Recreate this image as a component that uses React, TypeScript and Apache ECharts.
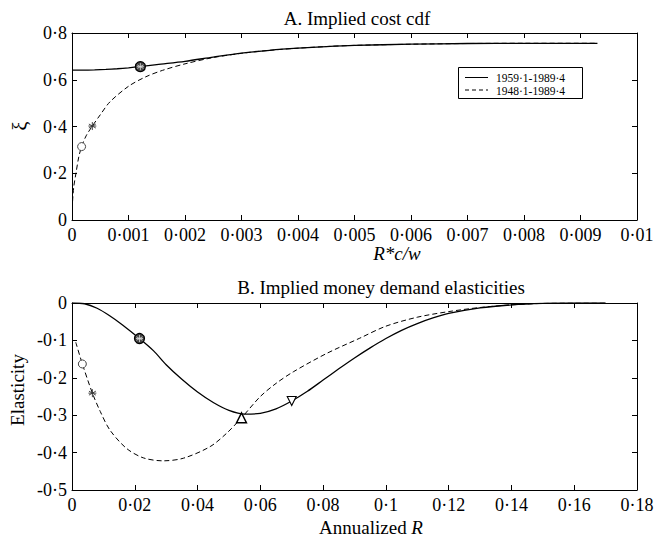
import React, { useEffect, useRef } from "react";
import * as echarts from "echarts";

// Panel A: implied cost cdf (x = R*c/w, y = xi)
const topSolid: [number, number][] = [
  [0, 0.641], [0.0002, 0.641], [0.0004, 0.642], [0.0006, 0.644], [0.0008, 0.647],
  [0.001, 0.651], [0.0012, 0.656], [0.0015, 0.665], [0.002, 0.679], [0.0025, 0.697],
  [0.003, 0.714], [0.0035, 0.726], [0.004, 0.735], [0.0045, 0.742], [0.005, 0.747],
  [0.006, 0.752], [0.007, 0.755], [0.008, 0.756], [0.0093, 0.756],
];
const topDashed: [number, number][] = [
  [0.00001, 0.08], [0.00003, 0.14], [0.00007, 0.2], [0.00012, 0.27], [0.00017, 0.314],
  [0.00025, 0.36], [0.00036, 0.402], [0.0005, 0.45], [0.00067, 0.505], [0.001, 0.572],
  [0.0013, 0.612], [0.0016, 0.64], [0.002, 0.668], [0.0025, 0.695], [0.003, 0.713],
  [0.0035, 0.726], [0.004, 0.735], [0.0045, 0.742], [0.005, 0.747], [0.006, 0.752],
  [0.007, 0.755], [0.008, 0.756], [0.0093, 0.756],
];
const topFilledMark: [number, number][] = [[0.00121, 0.656]];
const topOpenMark: [number, number][] = [[0.00017, 0.314]];
const topStarMark: [number, number][] = [[0.00036, 0.402]];

// Panel B: implied money demand elasticities (x = annualized R)
const botSolid: [number, number][] = [
  [0, 0], [0.004, -0.002], [0.008, -0.014], [0.012, -0.034], [0.016, -0.058],
  [0.0215, -0.095], [0.026, -0.128], [0.03, -0.165], [0.035, -0.204], [0.04, -0.238],
  [0.045, -0.266], [0.05, -0.287], [0.055, -0.297], [0.06, -0.295], [0.065, -0.283],
  [0.07, -0.262], [0.075, -0.236], [0.08, -0.206], [0.085, -0.176], [0.09, -0.147],
  [0.095, -0.12], [0.1, -0.095], [0.105, -0.073], [0.11, -0.055], [0.115, -0.04],
  [0.12, -0.028], [0.13, -0.013], [0.14, -0.005], [0.15, -0.001], [0.16, 0], [0.17, 0],
];
const botDashed: [number, number][] = [
  [0.0012, -0.105], [0.0033, -0.163], [0.0065, -0.241], [0.009, -0.29], [0.0121, -0.34],
  [0.0174, -0.389], [0.0227, -0.414], [0.029, -0.422], [0.0355, -0.415], [0.044, -0.384],
  [0.0493, -0.348], [0.054, -0.307], [0.06, -0.25], [0.065, -0.215], [0.0705, -0.184],
  [0.0811, -0.135], [0.0917, -0.094], [0.1, -0.062], [0.11, -0.038], [0.12, -0.023],
  [0.13, -0.012], [0.14, -0.005], [0.15, -0.001], [0.16, 0], [0.17, 0],
];
const botFilledMark: [number, number][] = [[0.0215, -0.095]];
const botOpenMark: [number, number][] = [[0.0033, -0.163]];
const botStarMark: [number, number][] = [[0.0065, -0.241]];
const botTriUpMark: [number, number][] = [[0.054, -0.307]];
const botTriDownMark: [number, number][] = [[0.07, -0.262]];

const legendNames = ["1959·1-1989·4", "1948·1-1989·4"];

const SERIF = "'Liberation Serif', 'Times New Roman', serif";
const STAR_PATH = "path://M5,0L5,10M0.67,2.5L9.33,7.5M0.67,7.5L9.33,2.5M0,5L10,5";

const fmt = (v: number) => {
  const s = parseFloat(v.toFixed(6)).toString();
  return s.replace(".", "·");
};

function mkAxis(gridIndex: number, position: string, min: number, max: number, interval: number, showLabel: boolean, isX: boolean) {
  return {
    type: "value",
    gridIndex,
    position,
    min,
    max,
    interval,
    axisLine: { show: true, onZero: false, lineStyle: { color: "#000", width: 1 } },
    axisTick: { show: true, inside: true, length: 5, lineStyle: { color: "#000", width: 1 } },
    splitLine: { show: false },
    axisLabel: {
      show: showLabel,
      formatter: fmt,
      color: "#000",
      fontFamily: SERIF,
      fontSize: 18,
      margin: isX ? 6 : 5,
      showMinLabel: true,
      showMaxLabel: true,
    },
  };
}

export default function App() {
  const ref = useRef<HTMLDivElement>(null);
  useEffect(() => {
    if (!ref.current) return;
    const chart = echarts.init(ref.current, undefined, { renderer: "svg" });
    const lineBase = (name: string, data: [number, number][], xi: number, yi: number, dashed: boolean) => ({
      type: "line",
      name,
      data,
      xAxisIndex: xi,
      yAxisIndex: yi,
      smooth: 0.3,
      showSymbol: false,
      symbol: "none",
      lineStyle: { color: "#000", width: dashed ? 1 : 1.3, type: dashed ? [5, 3] : "solid" },
      z: 3,
    });
    const scatter = (data: [number, number][], xi: number, yi: number, symbol: string, size: number, fill: string, border: string, bw: number, rotate = 0) => ({
      type: "scatter",
      data,
      xAxisIndex: xi,
      yAxisIndex: yi,
      symbol,
      symbolSize: size,
      symbolRotate: rotate,
      itemStyle: { color: fill, borderColor: border, borderWidth: bw, opacity: 1 },
      z: 5,
      silent: true,
    });
    chart.setOption({
      animation: false,
      backgroundColor: "#fff",
      grid: [
        { left: 72, right: 20, top: 33, height: 187 },
        { left: 72, right: 20, top: 303, height: 187 },
      ],
      xAxis: [
        mkAxis(0, "bottom", 0, 0.01, 0.001, true, true),
        mkAxis(0, "top", 0, 0.01, 0.001, false, true),
        mkAxis(1, "bottom", 0, 0.18, 0.02, true, true),
        mkAxis(1, "top", 0, 0.18, 0.02, false, true),
      ],
      yAxis: [
        mkAxis(0, "left", 0, 0.8, 0.2, true, false),
        mkAxis(0, "right", 0, 0.8, 0.2, false, false),
        mkAxis(1, "left", -0.5, 0, 0.1, true, false),
        mkAxis(1, "right", -0.5, 0, 0.1, false, false),
      ],
      series: [
        lineBase(legendNames[0], topSolid, 0, 0, false),
        lineBase(legendNames[1], topDashed, 0, 0, true),
        scatter(topFilledMark, 0, 0, "circle", 10, "#444", "#000", 1.2),
        scatter(topFilledMark, 0, 0, STAR_PATH, 7, "none", "#ddd", 0.8),
        scatter(topOpenMark, 0, 0, "circle", 8, "#fff", "#444", 1),
        scatter(topStarMark, 0, 0, STAR_PATH, 8, "none", "#333", 0.9),
        lineBase(legendNames[0], botSolid, 2, 2, false),
        lineBase(legendNames[1], botDashed, 2, 2, true),
        scatter(botFilledMark, 2, 2, "circle", 10, "#444", "#000", 1.2),
        scatter(botFilledMark, 2, 2, STAR_PATH, 7, "none", "#ddd", 0.8),
        scatter(botOpenMark, 2, 2, "circle", 8, "#fff", "#444", 1),
        scatter(botStarMark, 2, 2, STAR_PATH, 8, "none", "#333", 0.9),
        scatter(botTriUpMark, 2, 2, "triangle", 10, "#fff", "#000", 1.4),
        scatter(botTriDownMark, 2, 2, "triangle", 9, "#fff", "#000", 1.1, 180),
      ],
      graphic: [
        { type: "text", x: 357, y: 18, style: { text: "A. Implied cost cdf", font: `19px ${SERIF}`, fill: "#000", textAlign: "center", textVerticalAlign: "middle" } },
        { type: "text", x: 381, y: 287, style: { text: "B. Implied money demand elasticities", font: `19px ${SERIF}`, fill: "#000", textAlign: "center", textVerticalAlign: "middle" } },
        { type: "text", x: 397, y: 253, style: { text: "R*c/w", font: `italic 19px ${SERIF}`, fill: "#000", textAlign: "center", textVerticalAlign: "middle" } },
        {
          type: "text", x: 371, y: 527,
          style: {
            text: "{a|Annualized }{b|R}",
            textAlign: "center", textVerticalAlign: "middle",
            rich: {
              a: { font: `19px ${SERIF}`, fill: "#000" },
              b: { font: `italic 19px ${SERIF}`, fill: "#000" },
            },
          },
        },
        { type: "text", x: 20, y: 126, rotation: Math.PI / 2, style: { text: "ξ", font: `20px ${SERIF}`, fill: "#000", textAlign: "center", textVerticalAlign: "middle" } },
        { type: "text", x: 17, y: 390, rotation: Math.PI / 2, style: { text: "Elasticity", font: `19px ${SERIF}`, fill: "#000", textAlign: "center", textVerticalAlign: "middle" } },
        { type: "rect", shape: { x: 458.5, y: 67.5, width: 124, height: 31 }, style: { fill: "#fff", stroke: "#000", lineWidth: 1 }, z: 10 },
        { type: "line", shape: { x1: 465, y1: 77.5, x2: 488, y2: 77.5 }, style: { stroke: "#000", lineWidth: 1 }, z: 11 },
        { type: "line", shape: { x1: 465, y1: 90, x2: 488, y2: 90 }, style: { stroke: "#000", lineWidth: 1, lineDash: [4, 3] }, z: 11 },
        { type: "text", x: 496, y: 77.5, style: { text: legendNames[0], font: `11.5px ${SERIF}`, fill: "#000", textAlign: "left", textVerticalAlign: "middle" }, z: 11 },
        { type: "text", x: 496, y: 90.5, style: { text: legendNames[1], font: `11.5px ${SERIF}`, fill: "#000", textAlign: "left", textVerticalAlign: "middle" }, z: 11 },
      ],
    });
    return () => chart.dispose();
  }, []);
  return <div ref={ref} style={{ width: 657, height: 542, position: "absolute", left: 0, top: 0 }} />;
}
